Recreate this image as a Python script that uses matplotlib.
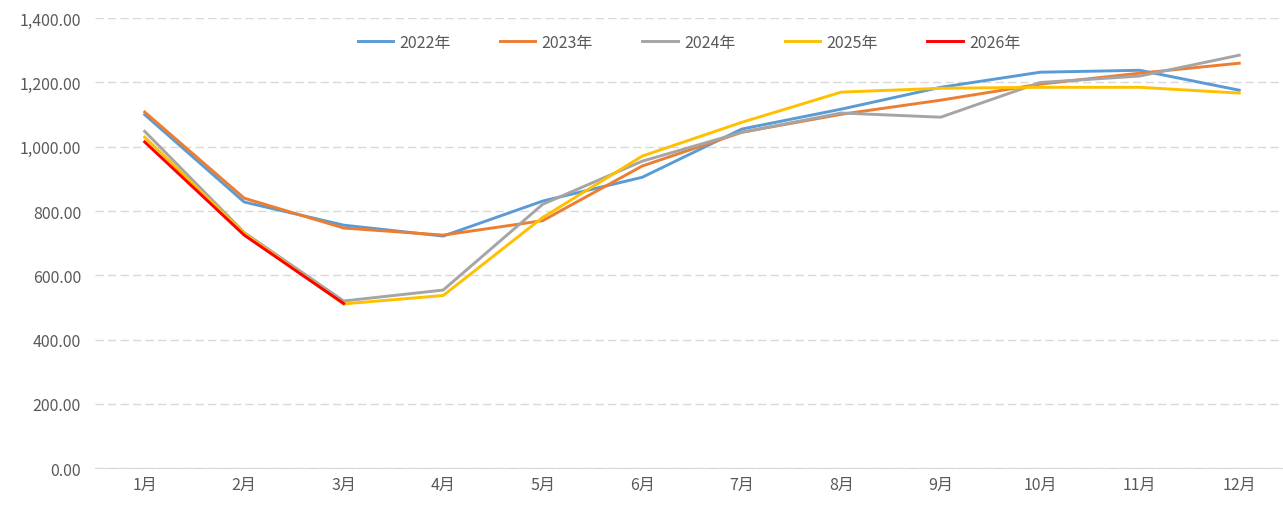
import matplotlib.pyplot as plt
from matplotlib.ticker import FuncFormatter

plt.rcParams['font.family'] = ['Noto Sans CJK SC', 'DejaVu Sans']

months = ['1月', '2月', '3月', '4月', '5月', '6月', '7月', '8月', '9月', '10月', '11月', '12月']

y2022 = [1100, 828, 756, 722, 831, 905, 1055, 1117, 1185, 1232, 1238, 1176]
y2023 = [1108, 840, 747, 725, 770, 940, 1045, 1101, 1145, 1195, 1229, 1260]
y2024 = [1048, 733, 520, 554, 821, 955, 1045, 1105, 1092, 1200, 1220, 1285]
y2025 = [1030, 730, 511, 537, 780, 971, 1076, 1170, 1182, 1185, 1185, 1167]
y2026 = [1015, 725, 512]

series = [
    ('2022年', y2022, '#5B9BD5'),
    ('2023年', y2023, '#ED7D31'),
    ('2024年', y2024, '#A5A5A5'),
    ('2025年', y2025, '#FFC000'),
    ('2026年', y2026, '#FF0000'),
]

fig = plt.figure(figsize=(12.83, 5.06), dpi=100)
ax = fig.add_axes([0.074, 0.073, 0.926, 0.889])

x = list(range(len(months)))
for label, vals, color in series:
    ax.plot(x[:len(vals)], vals, color=color, linewidth=2.1, label=label,
            solid_joinstyle='round')

ax.set_ylim(0, 1400)
ax.set_yticks(range(0, 1401, 200))
ax.yaxis.set_major_formatter(FuncFormatter(lambda v, p: f'{v:,.2f}'))
ax.set_xlim(-0.5, 11.44)
ax.set_xticks(x)
ax.set_xticklabels(months)

ax.grid(axis='y', color='#D9D9D9', linestyle=(0, (6, 3)), linewidth=1)
ax.set_axisbelow(True)
for s in ['top', 'right', 'left']:
    ax.spines[s].set_visible(False)
ax.spines['bottom'].set_color('#D9D9D9')
ax.tick_params(length=0, labelsize=11.5, labelcolor='#595959')
ax.tick_params(axis='x', pad=6)
ax.tick_params(axis='y', pad=10)

ax.legend(loc='upper center', bbox_to_anchor=(0.5, 0.997), ncol=5, frameon=False,
          fontsize=11.5, labelcolor='#595959', handlelength=2.2,
          handletextpad=0.4, columnspacing=3.1)

fig.savefig('out.png', dpi=100)
